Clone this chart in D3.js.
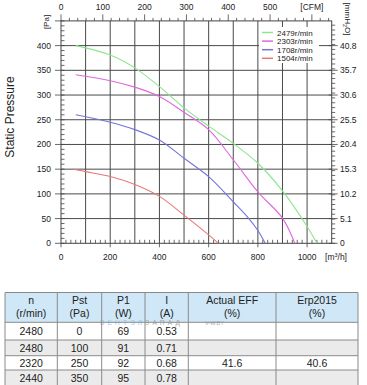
<!DOCTYPE html>
<html><head><meta charset="utf-8">
<script src="https://cdn.jsdelivr.net/npm/d3@7"></script>
<style>
body{margin:0;background:#fff;}
svg{display:block;font-family:"Liberation Sans",Arial,sans-serif;}
</style></head>
<body><svg id="c" width="367" height="385"></svg>
<script>
// ---- data ----
const seriesNames = ["2479r/min","2303r/min","1708r/min","1504r/min"];
const seriesColors = ["#8ce68c","#e066e0","#7474dc","#e87878"];
const s2479 = [[60,400],[200,381],[300,355],[400,317],[500,274],[600,237],[700,202],[800,162],[900,106],[1000,34],[1040,0]];
const s2303 = [[60,341],[200,329],[300,316],[400,297],[500,265],[600,230],[700,169],[800,104],[900,51],[950,0]];
const s1708 = [[60,260],[200,245],[300,230],[400,209],[500,172],[600,135],[700,84],[760,52],[800,26],[830,0]];
const s1504 = [[50,150],[100,145],[200,135],[300,119],[400,95],[500,57],[600,17],[640,0]];
const seriesData = [s2479,s2303,s1708,s1504];
const paTicks = [0,50,100,150,200,250,300,350,400];
const mmTickLabels = ["0","5.1","10.2","15.3","20.4","25.5","30.6","35.7","40.8"];
const flowTicks = [0,200,400,600,800,1000];
const cfmTicks = [0,100,200,300,400,500];
const tableHeader = [["n","(r/min)"],["Pst","(Pa)"],["P1","(W)"],["I","(A)"],["Actual EFF","(%)"],["Erp2015","(%)"]];
const tableRows = [
  ["2480","0","69","0.53","",""],
  ["2480","100","91","0.71","",""],
  ["2320","250","92","0.68","41.6","40.6"],
  ["2440","350","95","0.78","",""]
];

const svg = d3.select("#c");
const x = d3.scaleLinear().domain([0,1100]).range([61,331.7]);
const y = d3.scaleLinear().domain([0,450]).range([243.3,20.9]);
const cfmToM3 = 1.699;
const grid = "#4a4a4a";

// grid
const g = svg.append("g");
g.selectAll("line.v").data(d3.range(100,1100,100)).join("line")
  .attr("x1",d=>x(d)).attr("x2",d=>x(d)).attr("y1",y(0)).attr("y2",y(450))
  .attr("stroke",grid).attr("stroke-width",1);
g.selectAll("line.h").data(paTicks.slice(1)).join("line")
  .attr("x1",x(0)).attr("x2",x(1100)).attr("y1",d=>y(d)).attr("y2",d=>y(d))
  .attr("stroke",grid).attr("stroke-width",1);
// frame
g.append("rect").attr("x",x(0)).attr("y",y(450)).attr("width",x(1100)-x(0)).attr("height",y(0)-y(450))
  .attr("fill","none").attr("stroke","#444").attr("stroke-width",1);

// minor ticks
const tk = svg.append("g").attr("stroke","#444").attr("stroke-width",0.8);
d3.range(0,1101,20).forEach(v=>{ tk.append("line").attr("x1",x(v)).attr("x2",x(v)).attr("y1",y(0)).attr("y2",y(0)-(v%100===0?0:3.5)); });
flowTicks.forEach(v=>{ tk.append("line").attr("x1",x(v)).attr("x2",x(v)).attr("y1",y(0)).attr("y2",y(0)+4); });
d3.range(0,451,10).forEach(v=>{ tk.append("line").attr("x1",x(0)).attr("x2",x(0)+3.5).attr("y1",y(v)).attr("y2",y(v)); });
paTicks.concat([450]).forEach(v=>{ tk.append("line").attr("x1",x(0)-6).attr("x2",x(0)).attr("y1",y(v)).attr("y2",y(v)); });
d3.range(0,46,1).forEach(v=>{ const p=v*9.80665; if(p<=450) tk.append("line").attr("x1",x(1100)).attr("x2",x(1100)+3.5).attr("y1",y(p)).attr("y2",y(p)); });
paTicks.forEach(v=>{ tk.append("line").attr("x1",x(1100)-3).attr("x2",x(1100)+6).attr("y1",y(v)).attr("y2",y(v)); });
d3.range(0,650,20).forEach(v=>{ const m=v*cfmToM3; if(m<=1100) tk.append("line").attr("x1",x(m)).attr("x2",x(m)).attr("y1",y(450)).attr("y2",y(450)-(v%100===0?6.5:3)); });

// tick labels
const lab = svg.append("g").attr("font-size",8.5).attr("fill","#222");
paTicks.forEach(v=>lab.append("text").attr("x",51).attr("y",y(v)+3).attr("text-anchor","end").text(v));
mmTickLabels.forEach((t,i)=>lab.append("text").attr("x",340).attr("y",y(paTicks[i])+3).text(t));
flowTicks.forEach(v=>lab.append("text").attr("x",x(v)).attr("y",260).attr("text-anchor","middle").text(v));
cfmTicks.forEach(v=>lab.append("text").attr("x",x(v*cfmToM3)).attr("y",10).attr("text-anchor","middle").text(v));
lab.append("text").attr("x",x(600*cfmToM3)).attr("y",10).attr("text-anchor","middle").text("[CFM]");
const m3 = lab.append("text").attr("x",336).attr("y",260).attr("text-anchor","middle");
m3.append("tspan").text("[m");
m3.append("tspan").attr("font-size",5.5).attr("dy",-3).text("3");
m3.append("tspan").attr("dy",3).text("/h]");
lab.append("text").attr("transform","translate(49,22) rotate(-90)").attr("text-anchor","middle").attr("font-size",8).text("[Pa]");
const mm = lab.append("text").attr("transform","translate(345,19) rotate(90)").attr("text-anchor","middle").attr("font-size",8);
mm.append("tspan").text("[mmH");
mm.append("tspan").attr("font-size",5.5).attr("dy",2).text("2");
mm.append("tspan").attr("dy",-2).text("O]");
svg.append("text").attr("transform","translate(14,117) rotate(-90)").attr("text-anchor","middle")
  .attr("font-size",12).attr("fill","#222").text("Static Pressure");

// legend
const lg = svg.append("g");
lg.append("rect").attr("x",259).attr("y",27).attr("width",60).attr("height",36).attr("fill","#fff");
seriesNames.forEach((n,i)=>{
  const yy = 32.5 + i*8.6;
  lg.append("line").attr("x1",262).attr("x2",273).attr("y1",yy).attr("y2",yy).attr("stroke",seriesColors[i]).attr("stroke-width",1.5);
  lg.append("text").attr("x",277).attr("y",yy+3).attr("font-size",8).attr("fill","#222").text(n);
});

// curves
const line = d3.line().x(d=>x(d[0])).y(d=>y(d[1])).curve(d3.curveCatmullRom.alpha(0.5));
seriesData.forEach((s,i)=>{
  svg.append("path").attr("d",line(s)).attr("fill","none").attr("stroke",seriesColors[i]).attr("stroke-width",1.1);
});

// table
const colX = [5,57.3,101.7,145,188.3,276,358];
const rowY = [292.5,322.3,340,355.7,370,388];
const tb = svg.append("g");
tb.append("rect").attr("x",colX[0]).attr("y",rowY[0]).attr("width",colX[6]-colX[0]).attr("height",rowY[1]-rowY[0]).attr("fill","#cfe7f6");
tableRows.forEach((r,i)=>{
  tb.append("rect").attr("x",colX[0]).attr("y",rowY[i+1]).attr("width",colX[6]-colX[0]).attr("height",rowY[i+2]-rowY[i+1])
    .attr("fill", i%2===1 ? "#ebebeb" : "#fff");
});
// watermark
const wm = tb.append("text").attr("x",100).attr("y",325).attr("font-size",6.5).attr("letter-spacing",3.2);
wm.append("tspan").attr("fill","#9cc8ea").text("ВЕНТЭЛ");
wm.append("tspan").attr("fill","#aaa").text("ЗАПАД");
tb.append("text").attr("x",205).attr("y",324.5).attr("font-size",5.5).attr("fill","#aab").text("V-W.BY");
// borders
const bc = "#8a8a8a";
colX.forEach(cx=>tb.append("line").attr("x1",cx).attr("x2",cx).attr("y1",rowY[0]).attr("y2",385).attr("stroke",bc).attr("stroke-width",1));
rowY.slice(0,5).forEach(ry=>tb.append("line").attr("x1",colX[0]).attr("x2",colX[6]).attr("y1",ry).attr("y2",ry).attr("stroke",bc).attr("stroke-width",1));
tableHeader.forEach((h,j)=>{
  const cx=(colX[j]+colX[j+1])/2;
  tb.append("text").attr("x",cx).attr("y",303.5).attr("text-anchor","middle").attr("font-size",10.5).attr("fill","#222").text(h[0]);
  tb.append("text").attr("x",cx).attr("y",316.5).attr("text-anchor","middle").attr("font-size",10.5).attr("fill","#222").text(h[1]);
});
tableRows.forEach((r,i)=>{
  const cy=(rowY[i+1]+Math.min(rowY[i+2],385))/2;
  r.forEach((v,j)=>{
    const cx=(colX[j]+colX[j+1])/2;
    tb.append("text").attr("x",cx).attr("y",cy+4).attr("text-anchor","middle").attr("font-size",10.5).attr("fill","#222").text(v);
  });
});
</script></body></html>
